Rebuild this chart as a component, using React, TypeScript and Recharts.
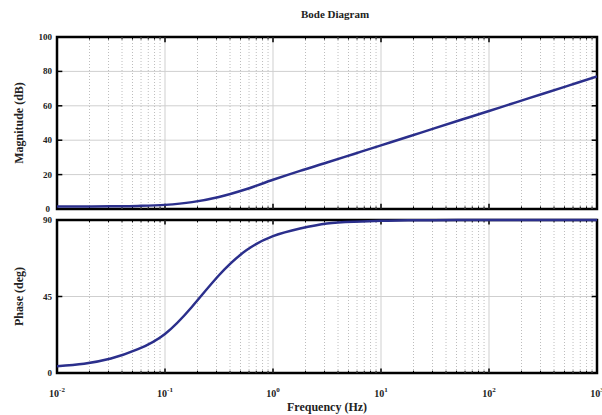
import React from "react";
import {
    LineChart,
    Line,
    XAxis,
    YAxis,
    CartesianGrid,
    ReferenceLine,
    ReferenceArea,
    Label,
} from "recharts";

// frequency points (Hz), every quarter decade
const freqs = [
    0.01, 0.0178, 0.0316, 0.0562, 0.1, 0.178, 0.316, 0.562, 1, 1.78, 3.16,
    5.62, 10, 17.8, 31.6, 56.2, 100, 178, 316, 562, 1000,
];
const magnitudeDb = [
    1.5, 1.5, 1.6, 1.8, 2.4, 4, 7, 11.5, 17, 22.2, 27, 32, 37, 42, 47, 52,
    57, 62, 67, 72, 77,
];
const phaseDeg = [
    4, 5.5, 8.5, 14, 23, 39, 57.5, 72, 80.5, 85, 88, 89, 89.5, 89.8, 89.9, 90,
    90, 90, 90, 90, 90,
];

const xTicks = [0.01, 0.1, 1, 10, 100, 1000];
const xTickExponents = ["-2", "-1", "0", "1", "2", "3"];
const magTicks = [0, 20, 40, 60, 80, 100];
const phaseTicks = [0, 45, 90];

const rows = freqs.map((f, i) => ({ f, mag: magnitudeDb[i], phase: phaseDeg[i] }));

const decades = [0.01, 0.1, 1, 10, 100];
const minorFreqs = decades.flatMap((d) => [2, 3, 4, 5, 6, 7, 8, 9].map((k) => d * k));

const SERIF = '"Liberation Serif", "DejaVu Serif", serif';
const LINE = "#2b2f8c";
const GRID = "#cfcfcf";

function FreqTick({ x, y, payload }: any) {
    const exp = xTickExponents[xTicks.indexOf(payload.value)];
    return (
        <text x={x} y={y + 16} textAnchor="middle" fontFamily={SERIF} fontWeight="bold" fontSize={10} fill="#222">
            10
            <tspan dy={-5} fontSize={7}>{exp}</tspan>
        </text>
    );
}

function ValueTick({ x, y, payload, skipZero }: any) {
    if (skipZero && payload.value === 0) return <g />;
    return (
        <text x={x} y={y} dy={3} textAnchor="end" fontFamily={SERIF} fontWeight="bold" fontSize={9} fill="#222">
            {payload.value}
        </text>
    );
}

function YTitle({ viewBox, text }: any) {
    const cx = 19;
    const cy = viewBox.y + viewBox.height / 2;
    return (
        <text
            x={cx}
            y={cy}
            transform={`rotate(-90, ${cx}, ${cy})`}
            textAnchor="middle"
            dominantBaseline="central"
            fontFamily={SERIF}
            fontWeight="bold"
            fontSize={12}
            fill="#222"
        >
            {text}
        </text>
    );
}

// grid, inward tick marks and frame shared by both panels
function panelDecor(yMin: number, yMax: number, yTicks: number[]) {
    const span = yMax - yMin;
    const major = span * 0.03;
    const minor = span * 0.015;
    return [
        ...minorFreqs.map((f) => (
            <ReferenceLine key={"mg" + f} x={f} stroke="#bdbdbd" strokeDasharray="1 2" />
        )),
        ...xTicks.slice(1, -1).map((f) => (
            <ReferenceLine key={"Mg" + f} x={f} stroke={GRID} />
        )),
        ...minorFreqs.flatMap((f) => [
            <ReferenceLine key={"mt" + f} segment={[{ x: f, y: yMax }, { x: f, y: yMax - minor }]} stroke="#000" />,
            <ReferenceLine key={"mb" + f} segment={[{ x: f, y: yMin }, { x: f, y: yMin + minor }]} stroke="#000" />,
        ]),
        ...xTicks.flatMap((f) => [
            <ReferenceLine key={"Mt" + f} segment={[{ x: f, y: yMax }, { x: f, y: yMax - major }]} stroke="#000" strokeWidth={1.5} />,
            <ReferenceLine key={"Mb" + f} segment={[{ x: f, y: yMin }, { x: f, y: yMin + major }]} stroke="#000" strokeWidth={1.5} />,
        ]),
        ...yTicks.flatMap((v) => [
            <ReferenceLine key={"yl" + v} segment={[{ x: 0.01, y: v }, { x: 0.0112, y: v }]} stroke="#000" strokeWidth={1.5} />,
            <ReferenceLine key={"yr" + v} segment={[{ x: 1000, y: v }, { x: 893, y: v }]} stroke="#000" strokeWidth={1.5} />,
        ]),
        <ReferenceArea
            key="frame"
            x1={0.01}
            x2={1000}
            y1={yMin}
            y2={yMax}
            fill="none"
            stroke="#000"
            strokeWidth={2.5}
            ifOverflow="visible"
        />,
    ];
}

export default function App() {
    return (
        <div style={{ position: "absolute", left: 0, top: 0, width: 602, height: 415, background: "#fff" }}>
            <div
                style={{
                    position: "absolute",
                    left: 0,
                    width: 670,
                    top: 8,
                    textAlign: "center",
                    fontFamily: SERIF,
                    fontWeight: "bold",
                    fontSize: 11,
                    color: "#222",
                }}
            >
                Bode Diagram
            </div>
            <div style={{ position: "absolute", left: 0, top: 0 }}>
                <LineChart width={602} height={214} data={rows} margin={{ top: 37, right: 5, left: 0, bottom: 4 }}>
                    <CartesianGrid vertical={false} stroke={GRID} />
                    <XAxis
                        dataKey="f"
                        type="number"
                        scale="log"
                        domain={[0.01, 1000]}
                        ticks={xTicks}
                        height={1}
                        tick={false}
                        axisLine={false}
                        tickLine={false}
                        allowDataOverflow
                    />
                    <YAxis
                        width={57}
                        domain={[0, 100]}
                        ticks={magTicks}
                        interval={0}
                        axisLine={false}
                        tickLine={false}
                        tickSize={3}
                        tick={<ValueTick skipZero />}
                    >
                        <Label content={(p: any) => <YTitle {...p} text="Magnitude (dB)" />} />
                    </YAxis>
                    {panelDecor(0, 100, magTicks.slice(1, -1))}
                    <Line
                        dataKey="mag"
                        type="monotone"
                        stroke={LINE}
                        strokeWidth={2.5}
                        dot={false}
                        isAnimationActive={false}
                    />
                </LineChart>
            </div>
            <div style={{ position: "absolute", left: 0, top: 199 }}>
                <LineChart width={602} height={216} data={rows} margin={{ top: 21, right: 5, left: 0, bottom: 0 }}>
                    <CartesianGrid vertical={false} stroke={GRID} />
                    <XAxis
                        dataKey="f"
                        type="number"
                        scale="log"
                        domain={[0.01, 1000]}
                        ticks={xTicks}
                        interval={0}
                        height={42}
                        axisLine={false}
                        tickLine={false}
                        tick={<FreqTick />}
                        allowDataOverflow
                    >
                        <Label
                            content={(p: any) => (
                                <text
                                    x={p.viewBox.x + p.viewBox.width / 2}
                                    y={p.viewBox.y + p.viewBox.height - 4}
                                    textAnchor="middle"
                                    fontFamily={SERIF}
                                    fontWeight="bold"
                                    fontSize={12}
                                    fill="#222"
                                >
                                    Frequency (Hz)
                                </text>
                            )}
                        />
                    </XAxis>
                    <YAxis
                        width={57}
                        domain={[0, 90]}
                        ticks={phaseTicks}
                        interval={0}
                        axisLine={false}
                        tickLine={false}
                        tickSize={3}
                        tick={<ValueTick />}
                    >
                        <Label content={(p: any) => <YTitle {...p} text="Phase (deg)" />} />
                    </YAxis>
                    {/* bottom label of the magnitude axis, drawn just above this panel */}
                    <ReferenceLine
                        y={phaseTicks[2]}
                        stroke="none"
                        label={(p: any) => (
                            <text
                                x={p.viewBox.x - 7}
                                y={p.viewBox.y - 11}
                                dy={3}
                                textAnchor="end"
                                fontFamily={SERIF}
                                fontWeight="bold"
                                fontSize={9}
                                fill="#222"
                            >
                                {magTicks[0]}
                            </text>
                        )}
                    />
                    {panelDecor(0, 90, [45])}
                    <Line
                        dataKey="phase"
                        type="natural"
                        stroke={LINE}
                        strokeWidth={2.5}
                        dot={false}
                        isAnimationActive={false}
                    />
                </LineChart>
            </div>
        </div>
    );
}
